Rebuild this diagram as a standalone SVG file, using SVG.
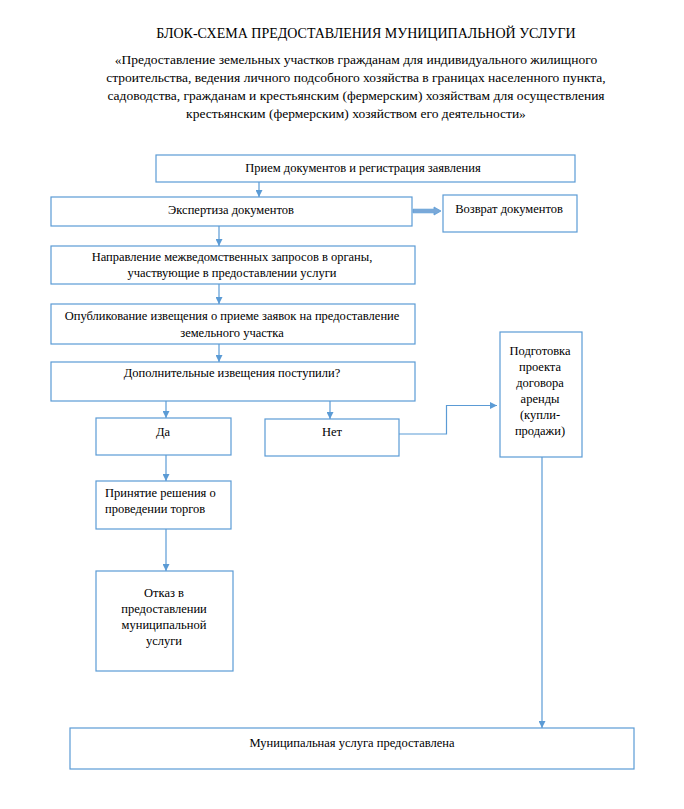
<svg xmlns="http://www.w3.org/2000/svg" width="684" height="809" viewBox="0 0 684 809">
<defs>
<style>
.box{fill:#ffffff;stroke:#5b9bd5;stroke-width:1.2}
.ln{fill:none;stroke:#5b9bd5;stroke-width:1.2}
text{font-family:"Liberation Serif","Times New Roman",serif;fill:#000;font-size:12.5px}
.c{text-anchor:middle}
.t{font-size:14px}
.s{font-size:13.5px}
</style>
<marker id="ah" viewBox="0 0 10 10" refX="10" refY="5" markerWidth="7" markerHeight="7" markerUnits="userSpaceOnUse" orient="auto">
<path d="M0,0 L10,5 L0,10 z" fill="#5b9bd5"/>
</marker>
</defs>
<rect width="684" height="809" fill="#ffffff"/>
<g id="title">
<text class="c t" x="366" y="38">БЛОК-СХЕМА ПРЕДОСТАВЛЕНИЯ МУНИЦИПАЛЬНОЙ УСЛУГИ</text>
<text class="c s" x="356" y="64">«Предоставление земельных участков гражданам для индивидуального жилищного</text>
<text class="c s" x="356" y="82">строительства, ведения личного подсобного хозяйства в границах населенного пункта,</text>
<text class="c s" x="356" y="100">садоводства, гражданам и крестьянским (фермерским) хозяйствам для осуществления</text>
<text class="c s" x="356" y="118">крестьянским (фермерским) хозяйством его деятельности»</text>
</g>
<g id="connectors">
<line class="ln" x1="259" y1="182" x2="259" y2="197" marker-end="url(#ah)"/>
<line class="ln" x1="219" y1="226" x2="219" y2="246" marker-end="url(#ah)"/>
<line class="ln" x1="219" y1="284" x2="219" y2="304" marker-end="url(#ah)"/>
<line class="ln" x1="219" y1="344" x2="219" y2="362" marker-end="url(#ah)"/>
<line class="ln" x1="166" y1="401" x2="166" y2="418" marker-end="url(#ah)"/>
<line class="ln" x1="330" y1="401" x2="330" y2="419" marker-end="url(#ah)"/>
<polyline class="ln" points="398,434 446.5,434 446.5,405.5 497,405.5" marker-end="url(#ah)"/>
<line class="ln" x1="166" y1="455" x2="166" y2="481" marker-end="url(#ah)"/>
<line class="ln" x1="166" y1="529" x2="166" y2="571" marker-end="url(#ah)"/>
<line class="ln" x1="542" y1="457" x2="542" y2="728" marker-end="url(#ah)"/>
<path d="M413,209.2 L434,209.2 L434,207 L441,211 L434,215 L434,212.8 L413,212.8 z" fill="#7aa8d8" stroke="#5b9bd5" stroke-width="0.8"/>
</g>
<g id="n1">
<rect class="box" x="156" y="155" width="419" height="27"/>
<text class="c" x="363" y="172">Прием документов и регистрация заявления</text>
</g>
<g id="n2">
<rect class="box" x="51" y="197" width="361" height="29"/>
<text class="c" x="231" y="214">Экспертиза документов</text>
</g>
<g id="n3">
<rect class="box" x="443" y="195" width="134" height="37"/>
<text class="c" x="509" y="213">Возврат документов</text>
</g>
<g id="n4">
<rect class="box" x="51" y="246" width="364" height="38"/>
<text class="c" x="232" y="261">Направление межведомственных запросов в органы,</text>
<text class="c" x="232" y="277">участвующие в предоставлении услуги</text>
</g>
<g id="n5">
<rect class="box" x="51" y="304" width="364" height="40"/>
<text class="c" x="232" y="320">Опубликование извещения о приеме заявок на предоставление</text>
<text class="c" x="232" y="337">земельного участка</text>
</g>
<g id="n6">
<rect class="box" x="51" y="362" width="364" height="39"/>
<text class="c" x="232" y="377">Дополнительные извещения поступили?</text>
</g>
<g id="n7">
<rect class="box" x="96" y="418" width="135" height="37"/>
<text class="c" x="163" y="436">Да</text>
</g>
<g id="n8">
<rect class="box" x="265" y="419" width="134" height="37"/>
<text class="c" x="332" y="436">Нет</text>
</g>
<g id="n9">
<rect class="box" x="500" y="332" width="82" height="125"/>
<text class="c" x="540" y="355">Подготовка</text>
<text class="c" x="540" y="371">проекта</text>
<text class="c" x="540" y="387">договора</text>
<text class="c" x="540" y="403">аренды</text>
<text class="c" x="540" y="419">(купли-</text>
<text class="c" x="540" y="435">продажи)</text>
</g>
<g id="n10">
<rect class="box" x="96" y="481" width="135" height="48"/>
<text x="105" y="497">Принятие решения о</text>
<text x="105" y="513">проведении торгов</text>
</g>
<g id="n11">
<rect class="box" x="96" y="571" width="137" height="100"/>
<text class="c" x="164" y="597">Отказ в</text>
<text class="c" x="164" y="613">предоставлении</text>
<text class="c" x="164" y="629">муниципальной</text>
<text class="c" x="164" y="645">услуги</text>
</g>
<g id="n12">
<rect class="box" x="70" y="728" width="564" height="41"/>
<text class="c" x="352" y="747">Муниципальная услуга предоставлена</text>
</g>
</svg>
